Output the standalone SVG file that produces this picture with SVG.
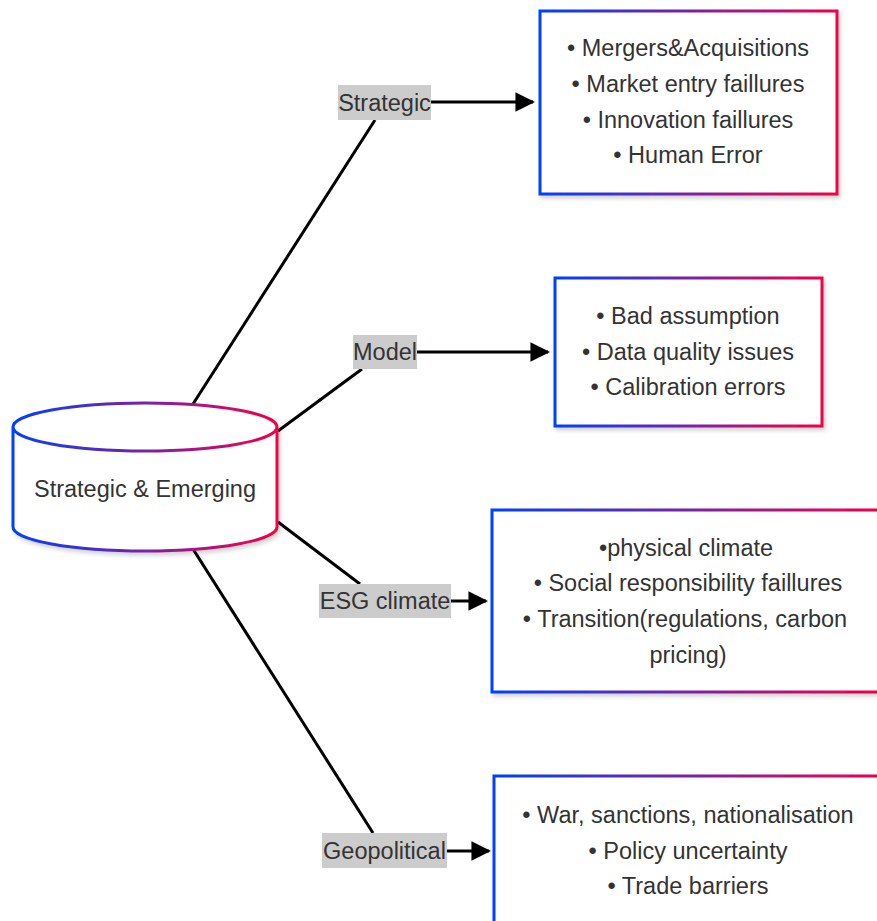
<svg xmlns="http://www.w3.org/2000/svg" width="877" height="921" viewBox="0 0 877 921">
  <style>
    text { font-family: "Liberation Sans", Arial, sans-serif; font-size: 23.5px; fill: #333333; text-anchor: middle; }
    .box { fill: #ffffff; stroke: url(#edge); stroke-width: 3; filter: url(#shadow); }
    .tag { fill: #cccccc; }
    .link { stroke: #000000; stroke-width: 3; fill: none; }
    .arrow { stroke: #000000; stroke-width: 3; fill: none; marker-end: url(#head); }
  </style>
  <defs>
    <linearGradient id="edge" x1="0" y1="0" x2="1" y2="0">
      <stop offset="0" stop-color="#0040ff"/>
      <stop offset="0.5" stop-color="#7a22a6"/>
      <stop offset="1" stop-color="#f50048"/>
    </linearGradient>
    <filter id="shadow" x="-10%" y="-10%" width="120%" height="130%">
      <feDropShadow dx="2" dy="3" stdDeviation="2" flood-color="#000000" flood-opacity="0.18"/>
    </filter>
    <marker id="head" viewBox="0 0 10 10" refX="9" refY="5" markerWidth="6.5" markerHeight="6.5" markerUnits="strokeWidth" orient="auto">
      <path d="M0,0 L10,5 L0,10 z" fill="#000000"/>
    </marker>
  </defs>

  <!-- connectors -->
  <g id="connectors">
    <line class="link" x1="193" y1="404" x2="375" y2="120"/>
    <line class="link" x1="278" y1="431" x2="362" y2="369"/>
    <line class="link" x1="278" y1="522" x2="360" y2="584"/>
    <line class="link" x1="193" y1="549" x2="373" y2="833"/>
    <line class="arrow" x1="431" y1="102" x2="533" y2="102"/>
    <line class="arrow" x1="417" y1="352" x2="548" y2="352"/>
    <line class="arrow" x1="451" y1="601" x2="486" y2="601"/>
    <line class="arrow" x1="447" y1="851" x2="489" y2="851"/>
  </g>

  <!-- central cylinder -->
  <g id="core">
    <path class="box" d="M13,427 a132,24 0 0,0 264,0 a132,24 0 0,0 -264,0 l0,100 a132,24 0 0,0 264,0 l0,-100"/>
    <text x="145" y="497">Strategic &amp; Emerging</text>
  </g>

  <!-- branch labels -->
  <g id="label-strategic">
    <rect class="tag" x="338" y="85" width="93" height="35"/>
    <text x="384.5" y="110.5">Strategic</text>
  </g>
  <g id="label-model">
    <rect class="tag" x="353" y="335" width="64" height="34"/>
    <text x="385" y="360">Model</text>
  </g>
  <g id="label-esg">
    <rect class="tag" x="319" y="584" width="132" height="34"/>
    <text x="385" y="609">ESG climate</text>
  </g>
  <g id="label-geopolitical">
    <rect class="tag" x="322" y="833" width="125" height="35"/>
    <text x="384.5" y="859">Geopolitical</text>
  </g>

  <!-- detail boxes -->
  <g id="box-strategic">
    <rect class="box" x="540" y="11" width="297" height="183"/>
    <text x="688" y="56">• Mergers&amp;Acquisitions</text>
    <text x="688" y="92">• Market entry faillures</text>
    <text x="688" y="128">• Innovation faillures</text>
    <text x="688" y="163">• Human Error</text>
  </g>
  <g id="box-model">
    <rect class="box" x="555" y="278" width="267" height="148"/>
    <text x="688" y="324">• Bad assumption</text>
    <text x="688" y="360">• Data quality issues</text>
    <text x="688" y="395">• Calibration errors</text>
  </g>
  <g id="box-esg">
    <rect class="box" x="492" y="510" width="392" height="182"/>
    <text x="686" y="556">•physical climate</text>
    <text x="688" y="591">• Social responsibility faillures</text>
    <text x="685" y="627">• Transition(regulations, carbon</text>
    <text x="688" y="663">pricing)</text>
  </g>
  <g id="box-geopolitical">
    <rect class="box" x="494" y="776" width="392" height="160"/>
    <text x="688" y="823">• War, sanctions, nationalisation</text>
    <text x="688" y="859">• Policy uncertainty</text>
    <text x="688" y="894">• Trade barriers</text>
  </g>
</svg>
